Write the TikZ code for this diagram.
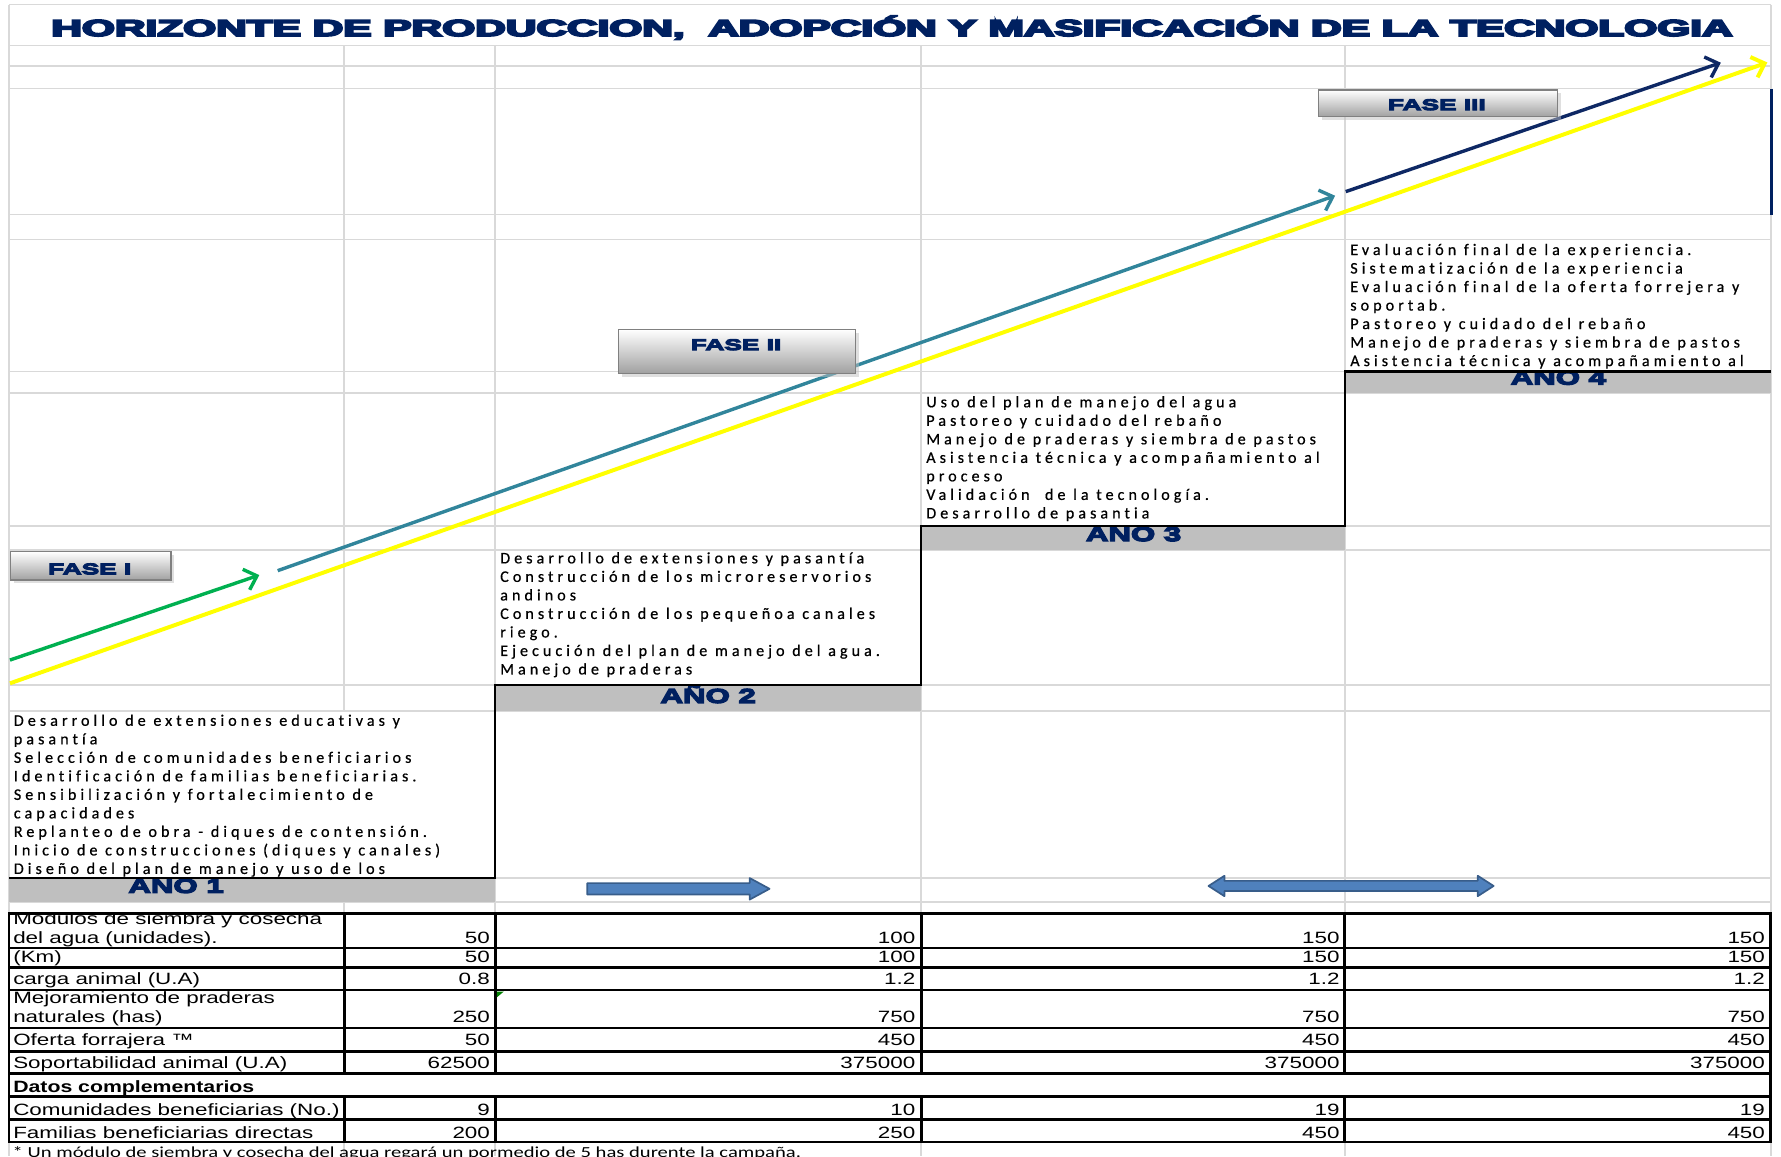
\documentclass[tikz,border=0pt]{standalone}
\usepackage{fontspec}
\usepackage{graphicx}
\usetikzlibrary{arrows.meta,shadows}
\setmainfont{Liberation Sans}
\newfontfamily\cellfont[LetterSpace=25,Ligatures={NoCommon},FakeBold=0.6]{Carlito}
\newfontfamily\notefont{Carlito}
\newfontfamily\tabfont[FakeStretch=1.37]{Liberation Sans}
\newfontfamily\tabbold[FakeStretch=1.3]{Liberation Sans Bold}
\newfontfamily\titlefont[FakeBold=7]{Liberation Sans Bold}
\newfontfamily\anofont[FakeBold=7,FakeStretch=1.56]{Liberation Sans Bold}
\newfontfamily\fasefont[FakeBold=7,FakeStretch=1.7]{Liberation Sans Bold}
\definecolor{gridgray}{RGB}{217,217,217}
\definecolor{bandgray}{RGB}{191,191,191}
\definecolor{navyblue}{RGB}{0,32,96}
\definecolor{arrnavy}{RGB}{14,40,100}
\definecolor{tealarr}{RGB}{49,133,155}
\definecolor{greenarr}{RGB}{0,176,80}
\definecolor{yellowarr}{RGB}{255,255,0}
\definecolor{boxgray}{RGB}{128,128,128}
\definecolor{blockfill}{RGB}{79,129,189}
\definecolor{blockline}{RGB}{56,93,138}
\definecolor{errgreen}{RGB}{0,128,0}
\tikzset{
  gridline/.style={draw=gridgray, line width=1.4pt},
  band/.style={fill=bandgray},
  stair/.style={draw=black, line width=2pt},
  ytext/.style={inner sep=0pt, anchor=base west, font=\cellfont\fontsize{14.2}{16.3}\selectfont},
  tlabel/.style={inner sep=0pt, anchor=base west, font=\tabfont\fontsize{14.4}{16}\selectfont},
  tnum/.style={inner sep=0pt, anchor=base east, font=\tabfont\fontsize{14.4}{16}\selectfont},
  tline/.style={draw=black, line width=2.4pt, line cap=rect},
  ano/.style={inner sep=0pt, anchor=base, text=navyblue, font=\anofont\fontsize{17.6}{18}\selectfont},
  fasebox/.style={draw=boxgray, line width=1.2pt, top color=white, bottom color=black!37, drop shadow={shadow xshift=3pt, shadow yshift=-3pt, fill=black!25}, inner sep=0pt},
  fase/.style={inner sep=0pt, anchor=base, text=navyblue, font=\fasefont\fontsize{13.6}{14}\selectfont},
  phase/.style={line width=3pt, -{Straight Barb[length=10pt,width=19pt]}},
  blockarrow/.style={fill=blockfill, draw=blockline, line width=1.5pt, line join=round},
}
\begin{document}
\begin{tikzpicture}[x=1pt,y=-1pt]
\useasboundingbox (0,0) rectangle (1568,1018);
\clip (0,0) rectangle (1568,1018);
% grid
\foreach \y in {4,40,58,78,189,211,327,346,463,484,603,626,773,794}
  \draw[gridline] (8,\y) -- (1559,\y);
\draw[gridline] (8,4) -- (8,1018);
\draw[gridline] (1559,4) -- (1559,1018);
\draw[gridline] (303,40) -- (303,626);
\draw[gridline] (303,794) -- (303,1018);
\foreach \x in {436,811,1184} \draw[gridline] (\x,40) -- (\x,1018);
% bands
\fill[band] (8,773) rectangle (436,794);
\fill[band] (436,603) rectangle (811,626);
\fill[band] (811,463) rectangle (1184,484);
\fill[band] (1184,327) rectangle (1559,346);
\begin{scope}\clip (8,773) rectangle (436,794);
  \node[ano] (ano1) at (155,786) {AÑO 1};\end{scope}
\begin{scope}\clip (436,603) rectangle (811,626);
  \node[ano] (ano2) at (623.5,618.8) {AÑO 2};\end{scope}
\begin{scope}\clip (811,463) rectangle (1184,484);
  \node[ano] (ano3) at (998,476.3) {AÑO 3};\end{scope}
\begin{scope}\clip (1184,327) rectangle (1559,346);
  \node[ano] (ano4) at (1372,338.5) {AÑO 4};\end{scope}
% staircase
\draw[stair] (8,773) -- (435.5,773) -- (435.5,603) -- (811,603) -- (811,463) -- (1184,463) -- (1184,327) -- (1559,327);
\draw[draw=navyblue, line width=2pt] (1559.5,78) -- (1559.5,189);
% title
\node[anchor=base west, inner sep=0pt, text=navyblue] (title) at (45,31.7)
  {\resizebox{1480pt}{\height}{\titlefont\fontsize{20.3}{22}\selectfont HORIZONTE DE PRODUCCION,\ \ ADOPCIÓN Y MASIFICACIÓN DE LA TECNOLOGIA}};
% year texts
\foreach \t [count=\i] in {Desarrollo de extensiones educativas y, pasantía, Selección de comunidades beneficiarios, Identificación de familias beneficiarias., Sensibilización y fortalecimiento de, capacidades, Replanteo de obra - diques de contensión., Inicio de construcciones (diques y canales), Diseño del plan de manejo y uso de los}
  \node[ytext] (ya\i) at (12,{639+16.3*(\i-1)}) {\t};
\foreach \t [count=\i] in {Desarrollo de extensiones y pasantía, Construcción de los microreservorios, andinos, Construcción de los pequeñoa canales, riego., Ejecución del plan de manejo del agua., Manejo de praderas}
  \node[ytext] (yb\i) at (440.2,{496+16.3*(\i-1)}) {\t};
\foreach \t [count=\i] in {Uso del plan de manejo del agua, Pastoreo y cuidado del rebaño, Manejo de praderas y siembra de pastos, Asistencia técnica y acompañamiento al, proceso, Validación\ \ de la tecnología., Desarrollo de pasantia}
  \node[ytext] (yc\i) at (815.3,{358.6+16.3*(\i-1)}) {\t};
\foreach \t [count=\i] in {Evaluación final de la experiencia., Sistematización de la experiencia, Evaluación final de la oferta forrejera y, soportab., Pastoreo y cuidado del rebaño, Manejo de praderas y siembra de pastos, Asistencia técnica y acompañamiento al}
  \node[ytext] (yd\i) at (1188.6,{224.5+16.3*(\i-1)}) {\t};
% phase arrows
\coordinate (ys) at (8.8,601.6); \coordinate (ye) at (1556,55);
\draw[phase, draw=yellowarr, line width=3.5pt] (ys) -- (ye);
\coordinate (gs) at (8.8,581.1); \coordinate (ge) at (228.3,506.3);
\draw[phase, draw=greenarr] (gs) -- (ge);
\coordinate (ts) at (244.5,502.4); \coordinate (te) at (1175.4,172.3);
\draw[phase, draw=tealarr] (ts) -- (te);
\coordinate (ns) at (1184.8,168.7); \coordinate (ne) at (1515,55.2);
\draw[phase, draw=arrnavy] (ns) -- (ne);
% phase boxes
\node[fasebox, minimum width=141pt, minimum height=25pt] (f1box) at (79.9,498.2) {};
\node[fase] (f1) at (79,505.6) {FASE I};
\node[fasebox, minimum width=209pt, minimum height=38.7pt] (f2box) at (648.9,309.3) {};
\node[fase] (f2) at (648,308.2) {FASE II};
\node[fasebox, minimum width=210.5pt, minimum height=23.5pt] (f3box) at (1266,91) {};
\node[fase] (f3) at (1265,96.9) {FASE III};
% block arrows
\draw[blockarrow] (517,777.5) -- (660,777.5) -- (660,773) -- (677.5,782.5) -- (660,792) -- (660,787.5) -- (517,787.5) -- cycle;
\draw[blockarrow] (1064,780) -- (1078,771) -- (1078,775.5) -- (1301,775.5) -- (1301,771) -- (1315,780) -- (1301,789) -- (1301,784.5) -- (1078,784.5) -- (1078,789) -- cycle;
% table
\fill[white] (8,804) rectangle (1559,1005.5);
\begin{scope}\clip (8,804) rectangle (303,835);
  \node[tlabel] (l1a) at (11.5,814) {Modulos de siembra y cosecha};\end{scope}
\node[tlabel] (l1b) at (11.5,830.5) {del agua (unidades).};
\node[tlabel] (l2) at (11.5,847.2) {(Km)};
\node[tlabel] (l3) at (11.5,866.9) {carga animal (U.A)};
\node[tlabel] (l4a) at (11.5,883.9) {Mejoramiento de praderas};
\node[tlabel] (l4b) at (11.5,900) {naturales (has)};
\node[tlabel] (l5) at (11.5,920.5) {Oferta forrajera ™};
\node[tlabel] (l6) at (11.5,941.1) {Soportabilidad animal (U.A)};
\node[tlabel, font=\tabbold\fontsize{14.4}{16}\selectfont] (l7) at (11.5,961.7) {Datos complementarios};
\node[tlabel] (l8) at (11.5,982.2) {Comunidades beneficiarias (No.)};
\node[tlabel] (l9) at (11.5,1002.2) {Familias beneficiarias directas};
\foreach \y/\a/\b/\c/\d [count=\i] in {830.5/50/100/150/150, 847.2/50/100/150/150, 866.9/0.8/1.2/1.2/1.2, 900/250/750/750/750, 920.5/50/450/450/450, 941.1/62500/375000/375000/375000, 982.2/9/10/19/19, 1002.2/200/250/450/450}
{
  \node[tnum] (va\i) at (431.5,\y) {\a};
  \node[tnum] (vb\i) at (806,\y) {\b};
  \node[tnum] (vc\i) at (1179.5,\y) {\c};
  \node[tnum] (vd\i) at (1554,\y) {\d};
}
\foreach \y in {804,834.5,851.7,871.6,905,925.5,945.2,965.5,985.5,1005.5}
  \draw[tline] (8,\y) -- (1559,\y);
\foreach \x in {8,1559} \draw[tline] (\x,804) -- (\x,1005.5);
\foreach \x in {303,436,811,1184} {
  \draw[tline] (\x,804) -- (\x,945.2);
  \draw[tline] (\x,965.5) -- (\x,1005.5);
}
\fill[errgreen] (437.5,873) -- (443.5,873) -- (437.5,878) -- cycle;
\node[anchor=base west, inner sep=0pt] (note) at (11,1018.8)
  {\resizebox{694pt}{\height}{\notefont\fontsize{13.5}{15}\selectfont * Un módulo de siembra y cosecha del agua regará un pormedio de 5 has durente la campaña.}};
\end{tikzpicture}
\end{document}
